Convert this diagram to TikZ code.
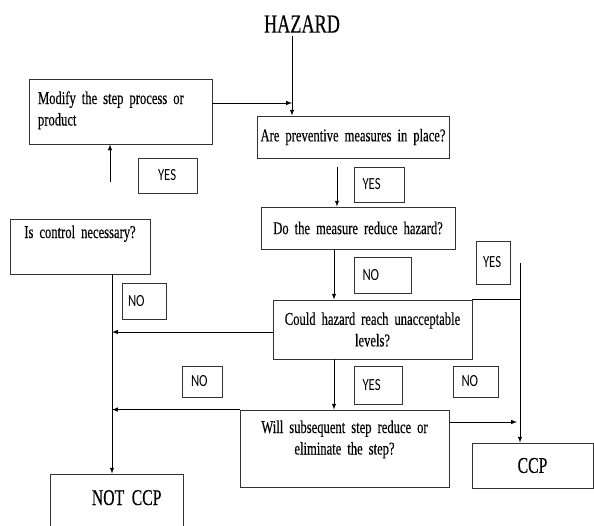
\documentclass[tikz,border=0pt]{standalone}
\usepackage{fontspec}
\setmainfont[FakeStretch=0.7, FakeBold=0.3]{Liberation Serif}
\newfontfamily\tagfont[FakeStretch=0.75]{Carlito}
\usetikzlibrary{arrows,calc}
\hyphenpenalty=10000
\newcommand\tightsp{\fontdimen2\font=1.8pt\fontdimen3\font=0.5pt\relax}

\begin{document}
\begin{tikzpicture}[x=1pt,y=-1pt,
		box/.style={draw=black!80, line width=0.9pt, inner sep=0pt, font=\fontsize{18}{21.5}\selectfont\tightsp},
		tag/.style={draw=black!80, line width=0.8pt, inner ysep=0pt, align=left, font=\tagfont\fontsize{17}{17}\selectfont},
		arr/.style={line width=1pt, -latex}]
		\useasboundingbox (0,0) rectangle (594,525);
		\clip (0,0) rectangle (594,525);
		\node[font=\fontsize{26}{26}\selectfont] (hazard) at (302,24) {HAZARD};
		\node[box, text width=165pt, inner xsep=9pt, align=left, text height=25pt, text depth=40pt] (modify) at (120.5,111.5) {Modify the step process or\\product};
		\node[box, text width=188pt, inner xsep=2pt, align=center, minimum height=42pt] (prev) at (353,137) {Are preventive measures in place?};
		\node[box, text width=184pt, inner xsep=5pt, align=center, minimum height=42pt] (do) at (358,228) {Do the measure reduce hazard?};
		\node[box, text width=130pt, inner xsep=5pt, align=center, text height=19pt, text depth=36pt] (ctrl) at (80,246.5) {Is control necessary?};
		\node[box, text width=189pt, inner xsep=5pt, align=center, minimum height=59pt] (reach) at (372.5,329.5) {Could hazard reach unacceptable\\levels?};
		\node[box, text width=199pt, inner xsep=5pt, align=center, text height=23pt, text depth=54pt] (will) at (344.5,448.5) {Will subsequent step reduce or\\eliminate the step?};
		\node[box, minimum width=121pt, minimum height=45pt, font=\fontsize{22.5}{22.5}\selectfont] (ccp) at (532.5,465.5) {CCP};
		\node[box, text width=90pt, inner xsep=21.5pt, align=right, text height=31pt, text depth=55pt, font=\fontsize{22.5}{22.5}\selectfont] (notccp) at (116.5,517) {NOT CCP};
		% answer tags
		\foreach \nm/\cx/\cy/\w/\h/\ins/\tw/\txt in {yesa/167.5/175.5/59/35/20/19pt/YES, yesb/379/184.5/50/35/8.5/33pt/YES,
				nob/382.5/275/57/36/8.5/40pt/NO, yesc/493/262.5/34/43/7/20pt/YES, noa/144/301/44/36/6/32pt/NO,
				yesd/378/385/48/38/8.5/31pt/YES, noc/475.5/381.5/45/31/8.5/28pt/NO, nod/202/381.5/40/31/9/22pt/NO}
			\node[tag, minimum width=\w, minimum height=\h, inner xsep=\ins, text width=\tw] (\nm) at (\cx,\cy) {\txt};
		\coordinate (hz) at (292,103);
		\coordinate (foot) at (110,182);
		\coordinate (rt) at (520,263);
		\draw[arr] (hz |- hazard.south) -- (hz |- prev.north);
		\draw[arr] (modify.east |- hz) -- (hz);
		\draw[arr] (foot) -- (foot |- modify.south);
		\draw[arr] ($(prev.south)+(-16,9)$) coordinate (pa) -- (pa |- do.north);
		\draw[arr] ($(do.south)+(-24,0)$) coordinate (da) -- (da |- reach.north);
		\draw[arr] (da |- reach.south) -- (da |- will.north);
		\draw[arr] ($(ctrl.south)+(32,0)$) coordinate (ca) -- (ca |- notccp.north);
		\draw[arr] ($(reach.west)+(0,2.5)$) coordinate (ra) -- (ra -| ca);
		\draw[arr] (will.north west) -- (will.north west -| ca);
		\draw[arr] (rt) -- (rt |- ccp.north);
		\draw[line width=0.9pt] (reach.north east) -- (reach.north east -| rt);
		\draw[arr, shorten >=3pt] ($(will.east)+(0,-26.5)$) coordinate (wa) -- (wa -| rt);
	\end{tikzpicture}
\end{document}
